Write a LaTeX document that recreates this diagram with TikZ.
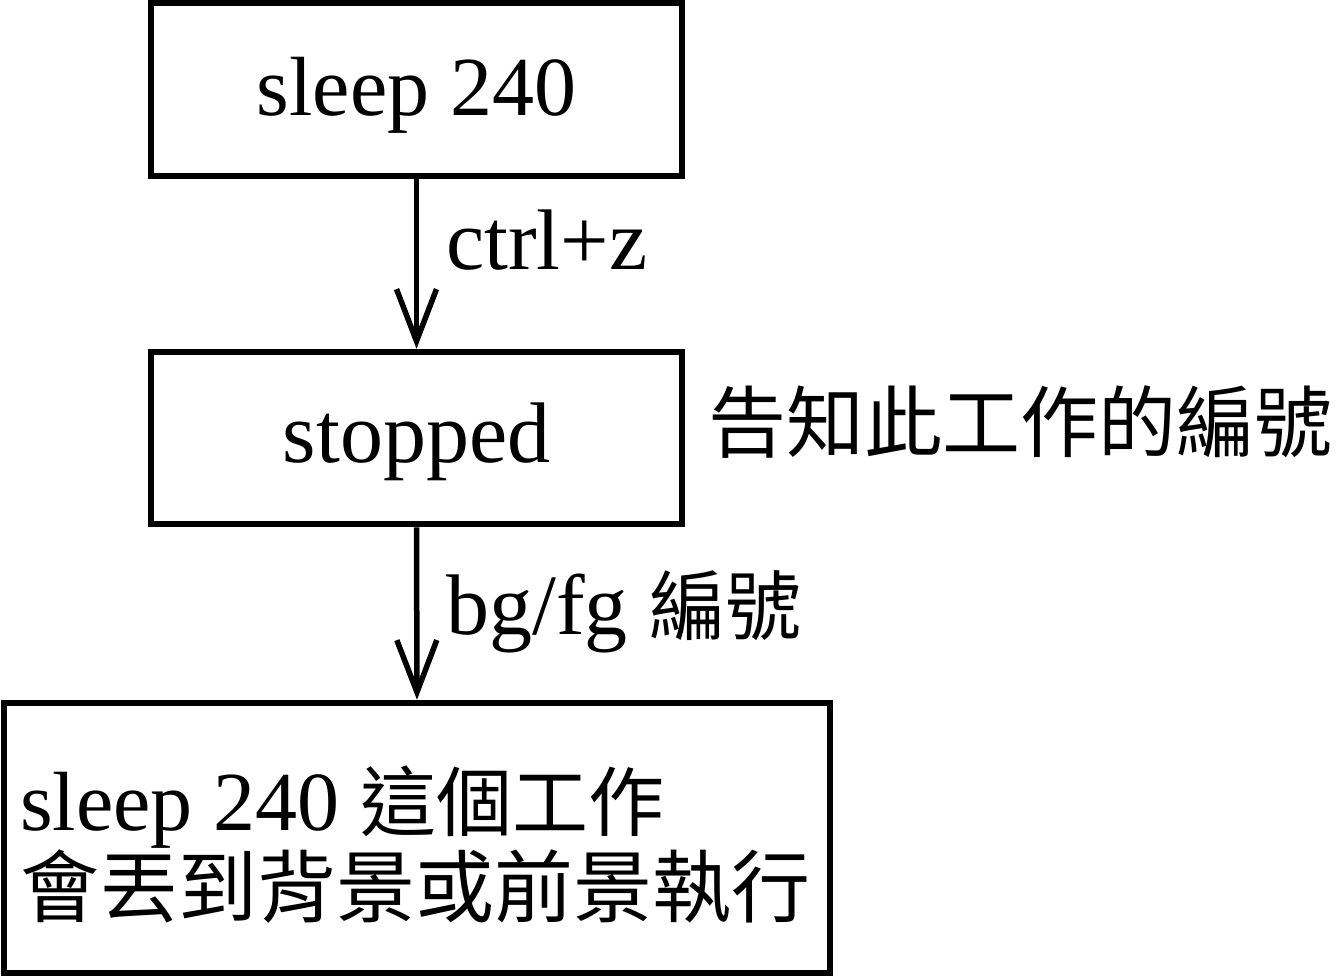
\documentclass[tikz,border=0pt]{standalone}
\usepackage{fontspec}
\setmainfont{Liberation Serif}
\newfontfamily\cjk{Noto Sans CJK TC}
\usetikzlibrary{arrows.meta}
\begin{document}
\begin{tikzpicture}[x=1pt,y=-1pt,
  boxst/.style={draw,line width=6.5pt,inner sep=0pt},
  arr/.style={line width=5.5pt,-{Straight Barb[length=52pt,width=40pt,line width=5.5pt]}},
  lbl/.style={font=\fontsize{86}{90}\selectfont,inner sep=0pt,anchor=west}]
\useasboundingbox (0,0) rectangle (1337,977);
\node[boxst,minimum width=531pt,minimum height=173pt] (b1) at (416.5,89.5) {};
\node[font=\fontsize{84}{90}\selectfont] (t1) at (416.5,95) {sleep 240};
\node[boxst,minimum width=531pt,minimum height=172pt] (b2) at (416.5,438) {};
\node[font=\fontsize{86}{90}\selectfont] (t2) at (416.5,442) {stopped};
\node[boxst,minimum width=826pt,minimum height=270pt] (b3) at (417,838) {};
\node[anchor=west,inner sep=0pt,align=left,font=\fontsize{84}{86}\selectfont] (t3) at (20,845)
  {sleep 240 {\cjk\fontsize{76}{86}\selectfont 這個工作}\\{\cjk\fontsize{79}{86}\selectfont 會丟到背景或前景執行}};
\draw[arr] (b1.south) -- (b2.north);
\draw[arr] (b2.south) -- (b3.north);
\node[lbl] (l1) at (446,240) {ctrl+z};
\node[lbl] (l2) at (446,612) {bg/fg {\cjk\fontsize{76}{86}\selectfont 編號}};
\node[anchor=west,inner sep=0pt,font=\cjk\fontsize{78}{86}\selectfont] (l3) at (708,422) {告知此工作的編號};
\end{tikzpicture}
\end{document}
